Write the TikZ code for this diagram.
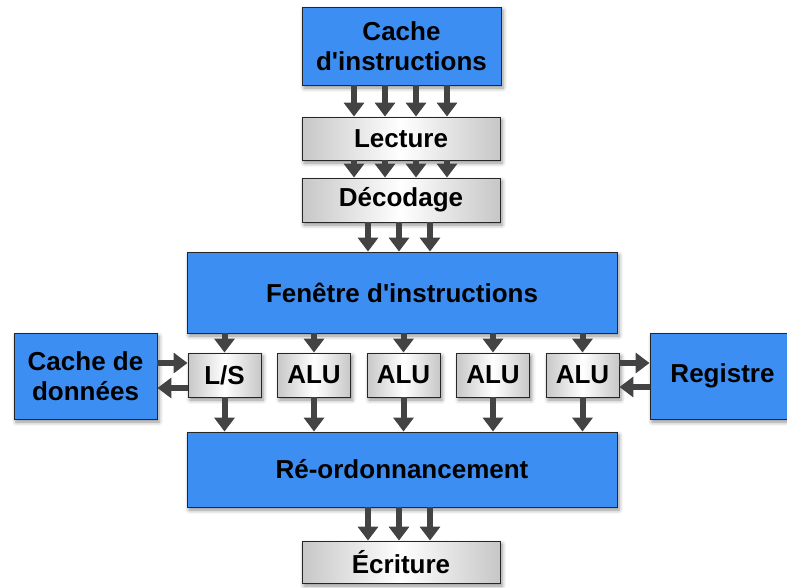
\documentclass[tikz,border=0pt]{standalone}
\usepackage{fontspec}
\setmainfont{Liberation Sans}
\usetikzlibrary{shadows.blur,arrows.meta}
\definecolor{unitblue}{HTML}{3D8EF2}
\definecolor{arrowgray}{HTML}{434343}
% straight typewriter apostrophe, set as a glyph so no text mapping curls it
\newcommand{\apos}{\XeTeXglyph\XeTeXcharglyph"0027\relax}
\begin{document}
\begin{tikzpicture}[x=1pt,y=-1pt,
  box/.style={draw=black!85, line width=0.9pt,
    blur shadow={shadow xshift=2pt,shadow yshift=-3pt,shadow opacity=45,shadow blur radius=4pt},
    font=\fontsize{26}{30}\selectfont\bfseries, align=center,
    inner sep=0pt, text=black},
  bluebox/.style={box, fill=unitblue},
  graybox/.style={box, left color=black!22, right color=black!22, middle color=white},
  unit/.style={graybox, minimum width=73pt, minimum height=44pt},
  flow/.style={draw=arrowgray, line width=6pt, -{Triangle[width=20pt,length=14pt]}}]
\useasboundingbox (0,0) rectangle (787,587);

% pipeline stages
\node[bluebox, minimum width=199pt, minimum height=78pt] (icache) at (401.5,46) {Cache\\d\apos instructions};
\node[graybox, minimum width=198pt, minimum height=43pt] (fetch) at (401,138.5) {Lecture};
\node[graybox, minimum width=198pt, minimum height=44pt] (decode) at (401,200) {Décodage};
\node[bluebox, minimum width=430pt, minimum height=81pt] (window) at (402,292.5) {Fenêtre d\apos instructions};

% execution units
\node[unit] (ls) at (224.5,375) {L/S};
\node[unit] (alua) at (314,375) {ALU};
\node[unit] (alub) at (403.5,375) {ALU};
\node[unit] (aluc) at (493,375) {ALU};
\node[unit] (alud) at (582.5,375) {ALU};

\node[bluebox, minimum width=430pt, minimum height=75pt] (reorder) at (402,469.5) {Ré-ordonnancement};
\node[graybox, minimum width=198pt, minimum height=42pt] (write) at (401,562) {Écriture};

\node[bluebox, minimum width=143pt, minimum height=86pt] (dcache) at (85.5,376) {Cache de\\données};
\node[bluebox, minimum width=145pt, minimum height=86pt] (regs) at (722.5,376) {Registre};

% four-wide fetch and decode
\foreach \x in {354,385,416,447} {
  \draw[flow] (icache.south -| \x,0) -- (fetch.north -| \x,0);
  \draw[flow] (fetch.south -| \x,0) -- (decode.north -| \x,0);
}
% three-wide dispatch and retire
\foreach \x in {368,399,430} {
  \draw[flow] (decode.south -| \x,0) -- (window.north -| \x,0);
  \draw[flow] (reorder.south -| \x,0) -- (write.north -| \x,0);
}
% issue to each unit and completion to the reorder buffer
\foreach \u in {ls,alua,alub,aluc,alud} {
  \draw[flow] (window.south -| \u) -- (\u.north);
  \draw[flow] (\u.south) -- (reorder.north -| \u);
}
% memory and register file traffic
\draw[flow] (dcache.east |- 0,363) -- (ls.west |- 0,363);
\draw[flow] (ls.west |- 0,388) -- (dcache.east |- 0,388);
\draw[flow] (alud.east |- 0,363) -- (regs.west |- 0,363);
\draw[flow] (regs.west |- 0,387) -- (alud.east |- 0,387);
\end{tikzpicture}
\end{document}
